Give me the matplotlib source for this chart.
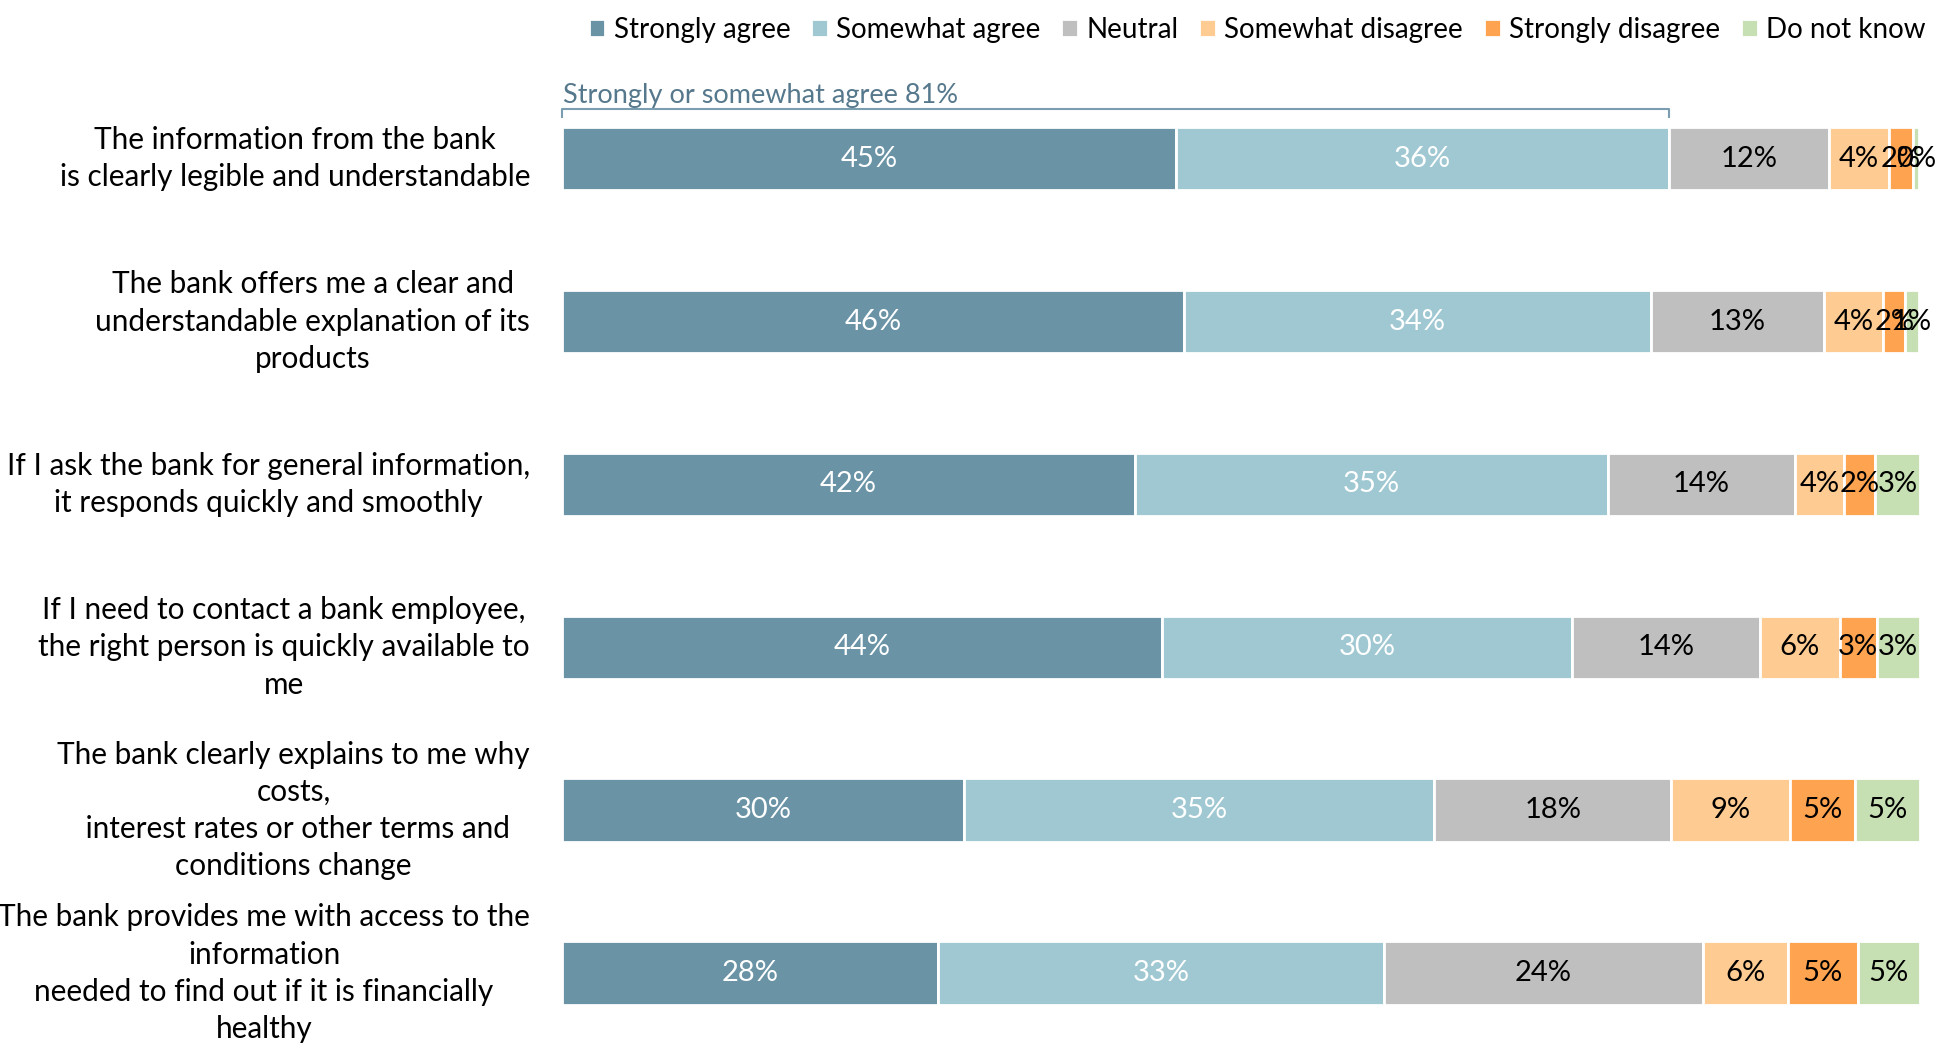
import matplotlib
matplotlib.use("Agg")
import matplotlib.pyplot as plt
import matplotlib.transforms as mtransforms
import numpy as np

plt.rcParams['font.family'] = ['Lato', 'DejaVu Sans']

categories = [
    "The information from the bank\nis clearly legible and understandable",
    "The bank offers me a clear and\nunderstandable explanation of its\nproducts",
    "If I ask the bank for general information,\nit responds quickly and smoothly",
    "If I need to contact a bank employee,\nthe right person is quickly available to\nme",
    "The bank clearly explains to me why\ncosts,\n interest rates or other terms and\nconditions change",
    "The bank provides me with access to the\ninformation\nneeded to find out if it is financially\nhealthy",
]
series = ["Strongly agree", "Somewhat agree", "Neutral",
          "Somewhat disagree", "Strongly disagree", "Do not know"]

strongly_agree    = [45.2, 45.8, 42.2, 44.2, 29.6, 27.7]
somewhat_agree    = [36.3, 34.4, 34.8, 30.2, 34.6, 32.8]
neutral           = [11.8, 12.7, 13.8, 13.8, 17.5, 23.5]
somewhat_disagree = [4.4, 4.4, 3.6, 5.9, 8.7, 6.3]
strongly_disagree = [1.8, 1.6, 2.3, 2.7, 4.8, 5.1]
do_not_know       = [0.4, 1.0, 3.3, 3.2, 4.8, 4.6]

labels_sa  = ["45%", "46%", "42%", "44%", "30%", "28%"]
labels_swa = ["36%", "34%", "35%", "30%", "35%", "33%"]
labels_ne  = ["12%", "13%", "14%", "14%", "18%", "24%"]
labels_swd = ["4%", "4%", "4%", "6%", "9%", "6%"]
labels_sd  = ["2%", "2%", "2%", "3%", "5%", "5%"]
labels_dk  = ["0%", "1%", "3%", "3%", "5%", "5%"]

bracket_text = "Strongly or somewhat agree 81%"

colors = ["#6a93a6", "#a0c8d2", "#bfbfbf", "#fecb92", "#fea34f", "#c6e0b4"]
text_colors = ["white", "white", "black", "black", "black", "black"]

data = [strongly_agree, somewhat_agree, neutral, somewhat_disagree,
        strongly_disagree, do_not_know]
labels = [labels_sa, labels_swa, labels_ne, labels_swd, labels_sd, labels_dk]

W, H = 1944, 1044
fig = plt.figure(figsize=(W / 100, H / 100), dpi=100)
ax = fig.add_axes([562 / W, 0, (1920 - 562) / W, 1])

y = np.arange(len(categories))
left = np.zeros(len(categories))
for vals, lab, col, tc, name in zip(data, labels, colors, text_colors, series):
    vals = np.array(vals)
    ax.barh(y, vals, left=left, height=0.39, color=col,
            edgecolor="white", linewidth=2, label=name)
    for yi, v, l, t in zip(y, vals, left, lab):
        ax.text(l + v / 2, yi, t, ha="center", va="center",
                fontsize=21, color=tc)
    left += vals

ax.set_xlim(0, 100)
ax.set_ylim(5.435, -0.974)

ax.set_yticks(y)
ax.set_yticklabels(categories, fontsize=21.4, multialignment="center",
                   linespacing=1.4)
ax.tick_params(axis="y", length=0, pad=23)
shift = mtransforms.ScaledTranslation(0, 0.07, fig.dpi_scale_trans)
for t in ax.get_yticklabels():
    t.set_transform(t.get_transform() + shift)
ax.set_xticks([])
for s in ax.spines.values():
    s.set_visible(False)

# bracket for "strongly or somewhat agree"
x_end = strongly_agree[0] + somewhat_agree[0]
by, bt = -0.305, -0.255
ax.plot([0, 0, x_end, x_end], [bt, by, by, bt], color="#7a9db0",
        linewidth=1.5, clip_on=False)
ax.text(0.1, by - 0.005, bracket_text, ha="left", va="bottom",
        fontsize=19.5, color="#56788c")

handles, hl = ax.get_legend_handles_labels()
fig.legend(handles, hl, loc="upper right", bbox_to_anchor=(0.999, 1.0),
           ncol=6, frameon=False, fontsize=20, handlelength=0.6,
           handleheight=0.6, handletextpad=0.3, columnspacing=0.75,
           borderaxespad=0.2)

fig.savefig("out.png", dpi=100)
